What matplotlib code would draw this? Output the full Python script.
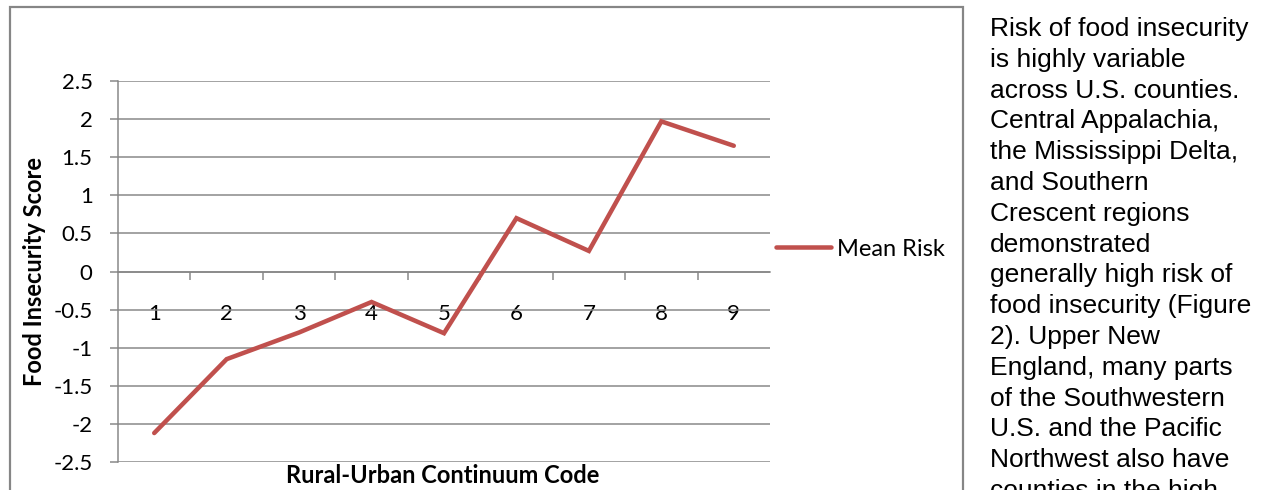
import matplotlib
matplotlib.use("Agg")
import matplotlib.pyplot as plt
from matplotlib.patches import Rectangle
from matplotlib.lines import Line2D
import numpy as np

categories = [1, 2, 3, 4, 5, 6, 7, 8, 9]
mean_risk = [-2.12, -1.15, -0.80, -0.40, -0.81, 0.70, 0.27, 1.97, 1.65]
y_ticks = [-2.5, -2, -1.5, -1, -0.5, 0, 0.5, 1, 1.5, 2, 2.5]
y_tick_labels = ["-2.5", "-2", "-1.5", "-1", "-0.5", "0", "0.5", "1", "1.5", "2", "2.5"]
series_name = "Mean Risk"
x_title = "Rural-Urban Continuum Code"
y_title = "Food Insecurity Score"
side_text = [
    "Risk of food insecurity",
    "is highly variable",
    "across U.S. counties.",
    "Central Appalachia,",
    "the Mississippi Delta,",
    "and Southern",
    "Crescent regions",
    "demonstrated",
    "generally high risk of",
    "food insecurity (Figure",
    "2). Upper New",
    "England, many parts",
    "of the Southwestern",
    "U.S. and the Pacific",
    "Northwest also have",
    "counties in the high",
]

W, H = 1265, 490
DPI = 100
fig = plt.figure(figsize=(W / DPI, H / DPI), dpi=DPI)
fig.patch.set_facecolor("white")

GRAY = "#868686"
RED = "#C0504D"
TICK_FONT = "Lato"
px = 72.0 / DPI  # points per pixel
TICK_SIZE = 16
LABEL_SIZE = 17

# outer chart frame
fig.patches.append(Rectangle((10 / W, -0.05), (963 - 10) / W, 1.05 - 7 / H,
                             transform=fig.transFigure, fill=False,
                             edgecolor=GRAY, linewidth=2.2 * px, clip_on=False))

left, right = 118 / W, 770 / W
bottom, top = (H - 462) / H, (H - 81) / H
ax = fig.add_axes([left, bottom, right - left, top - bottom])
ax.set_facecolor("none")

ax.plot(categories, mean_risk, color=RED, linewidth=4.5 * px,
        solid_capstyle="round", solid_joinstyle="miter", zorder=3)

ax.set_xlim(0.5, 9.5)
ax.set_ylim(-2.5, 2.5)

# y axis
ax.set_yticks(y_ticks)
ax.set_yticklabels(y_tick_labels, fontfamily=TICK_FONT, fontsize=TICK_SIZE)
ax.tick_params(axis="y", length=8 * px, width=1.5 * px, color=GRAY, pad=12.5, direction="out")
ax.yaxis.grid(True, color=GRAY, linewidth=1.5 * px)
ax.set_axisbelow(True)

# x axis crosses at 0
ax.spines["bottom"].set_position(("data", 0))
ax.spines["bottom"].set_color(GRAY)
ax.spines["bottom"].set_linewidth(1.5 * px)
ax.spines["left"].set_color(GRAY)
ax.spines["left"].set_linewidth(1.5 * px)
ax.spines["top"].set_visible(False)
ax.spines["right"].set_visible(False)

ax.set_xticks(categories)
ax.set_xticklabels([str(c) for c in categories], fontfamily=TICK_FONT, fontsize=TICK_SIZE)
ax.set_xticks(np.arange(1.5, 9.5, 1.0), minor=True)
ax.tick_params(axis="x", which="major", length=0, pad=23.5)
ax.tick_params(axis="x", which="minor", length=8 * px, width=1.5 * px, color=GRAY, direction="out")

# axis titles
fig.text(443 / W, 1 - 475 / H, x_title, ha="center", va="center",
         fontfamily=TICK_FONT, fontweight="bold", fontsize=LABEL_SIZE)
fig.text(35 / W, 1 - 271 / H, y_title, ha="center", va="center", rotation=90,
         fontfamily=TICK_FONT, fontweight="bold", fontsize=LABEL_SIZE)

# legend
leg_handle = Line2D([], [], color=RED, linewidth=4.5 * px, solid_capstyle="round")
fig.legend([leg_handle], [series_name], loc="center left",
           bbox_to_anchor=(776 / W, 1 - 249 / H), frameon=False,
           prop={"family": TICK_FONT, "size": LABEL_SIZE}, handlelength=2.35,
           handletextpad=0.22, borderaxespad=0, borderpad=0)

# side text
for i, line in enumerate(side_text):
    yb = 36 + i * 30.8
    fig.text(990 / W, 1 - yb / H, line, ha="left", va="baseline",
             fontfamily="Liberation Sans", fontsize=19, color="black")

fig.savefig("out.png", dpi=DPI, facecolor="white")
